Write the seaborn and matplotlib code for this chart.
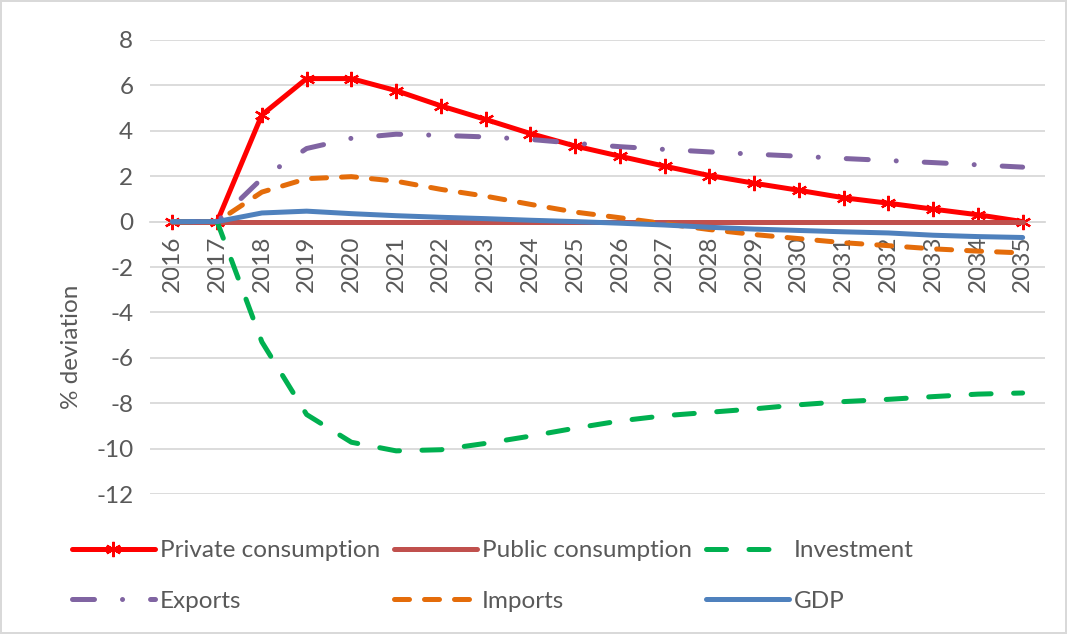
import matplotlib
matplotlib.use("Agg")
import matplotlib.pyplot as plt
import seaborn as sns

# values (% deviation from baseline)
years = list(range(2016, 2036))
private = [0, 0, 4.7, 6.3, 6.3, 5.77, 5.1, 4.5, 3.88, 3.33, 2.88, 2.44, 2.03, 1.69, 1.38, 1.05, 0.81, 0.55, 0.3, 0.0]
public = [0] * 20
investment = [0, 0, -5.3, -8.5, -9.72, -10.1, -10.05, -9.77, -9.45, -9.1, -8.78, -8.55, -8.4, -8.25, -8.07, -7.93, -7.83, -7.71, -7.6, -7.55]
exports = [0, 0, 1.9, 3.22, 3.67, 3.85, 3.8, 3.73, 3.62, 3.45, 3.3, 3.18, 3.07, 2.97, 2.88, 2.78, 2.69, 2.6, 2.5, 2.4]
imports = [0, 0, 1.3, 1.89, 1.98, 1.78, 1.42, 1.12, 0.76, 0.42, 0.17, -0.09, -0.35, -0.57, -0.75, -0.93, -1.06, -1.2, -1.3, -1.38]
gdp = [0, 0, 0.38, 0.46, 0.35, 0.26, 0.19, 0.13, 0.06, 0.0, -0.07, -0.15, -0.25, -0.33, -0.39, -0.45, -0.5, -0.6, -0.66, -0.7]

names = ["Private consumption", "Public consumption", "Investment", "Exports", "Imports", "GDP"]
colors = ["#FF0000", "#C0504D", "#00B050", "#8064A2", "#E46C0A", "#4F81BD"]
styles = ["-", "-", (0, (4, 4.5)), (0, (4.4, 5.6, 0.01, 5.6)), (0, (3, 3)), "-"]
markers = [(6, 2, 0), None, None, None, None, None]

sns.set_style("white")
plt.rcParams["font.family"] = ["Lato", "DejaVu Sans"]
plt.rcParams["axes.unicode_minus"] = False
text_col = "#595959"
fs = 17.5

fig = plt.figure(figsize=(10.67, 6.34), dpi=100)
fig.patch.set_edgecolor("#D9D9D9")
fig.patch.set_linewidth(1.5)
ax = fig.add_axes([150 / 1067, 1 - 494 / 634, 895 / 1067, 454 / 634])

for name, vals, c, ls, mk in zip(names, [private, public, investment, exports, imports, gdp], colors, styles, markers):
    sns.lineplot(x=years, y=vals, ax=ax, color=c, linewidth=3.6, linestyle=ls,
                 marker=mk, markersize=11, markeredgewidth=1.6, markeredgecolor=c,
                 dash_capstyle="round", solid_capstyle="round", label=name)

if ax.get_legend() is not None:
    ax.get_legend().remove()

ax.set_xlim(2015.5, 2035.5)
ax.set_ylim(-12, 8)
ax.set_yticks(range(-12, 9, 2))
ax.set_xticks(years)
ax.set_xticklabels([str(y) for y in years])
ax.tick_params(axis="both", length=0, labelsize=fs, labelcolor=text_col)
ax.tick_params(axis="x", pad=10, labelrotation=90)
ax.tick_params(axis="y", pad=12)
ax.grid(axis="y", color="#D9D9D9", linewidth=1.3)
ax.set_axisbelow(True)
for s in ["top", "right", "left"]:
    ax.spines[s].set_visible(False)
ax.spines["bottom"].set_position(("data", 0))
ax.spines["bottom"].set_color("#D9D9D9")
ax.spines["bottom"].set_linewidth(1.3)
ax.spines["bottom"].set_zorder(0.5)
ax.set_xlabel("")
ax.set_ylabel("")

fig.text(71 / 1067, 1 - 347 / 634, "% deviation", rotation=90, ha="center", va="center",
         fontsize=fs, color=text_col)

h, l = ax.get_legend_handles_labels()
order = [0, 3, 1, 4, 2, 5]
fig.legend([h[i] for i in order], [l[i] for i in order], ncol=3, loc="upper left",
           bbox_to_anchor=(72 / 1067, 1 - 540 / 634), frameon=False,
           handlelength=3.4, handletextpad=0.2, columnspacing=0.6, labelspacing=1.22,
           borderpad=0, borderaxespad=0, fontsize=fs, labelcolor=text_col)

fig.savefig("out.png", dpi=100, edgecolor=fig.get_edgecolor())
